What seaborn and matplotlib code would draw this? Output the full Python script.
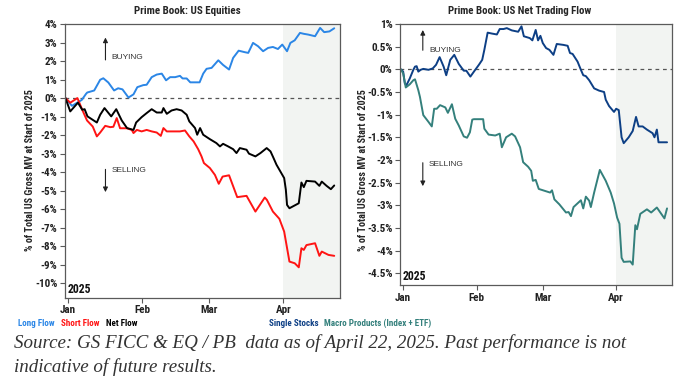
import pandas as pd
import matplotlib
matplotlib.use("Agg")
import matplotlib.pyplot as plt
from matplotlib.ticker import FuncFormatter
import seaborn as sns


# ==========================================================
# DATA (days since 2025-01-01, % of total US gross MV)
# ==========================================================

long_days = [-1, 1.7, 5.8, 7.6, 8.1, 11, 13.5, 14.8, 16.9, 19.3, 21, 22.8, 25.3, 27.4, 29, 31.5, 32.9, 35, 37.1, 39.2,
             41, 42.7, 44.8, 46.8, 47.9, 49.6, 51.1, 53.9, 55, 56.5, 57.9, 60, 62.8, 64.8, 67.3, 69, 71.3, 73.8, 75.3,
             77.3, 79.4, 81.5, 83.6, 85.6, 87.7, 89.5, 91.5, 92.9, 94.7, 96.9, 98.5, 100.3, 103.2, 105.3, 107, 109.2, 111.2]
long_vals = [0, -0.42, -0.1, 0.23, 0.3, 0.41, 0.99, 1.07, 0.84, 0.41, 0.53, 0.47, 0.03, 0.2, 0.59, 0.7, 0.72, 1.13, 1.27,
             1.32, 0.96, 1.13, 1.13, 1.2, 1.06, 1.06, 0.85, 0.85, 0.85, 1.32, 1.58, 1.63, 2.04, 1.79, 1.54, 2.17, 2.56, 2.48,
             2.44, 2.98, 2.8, 2.53, 2.71, 2.76, 2.65, 2.89, 2.53, 2.98, 3.12, 3.52, 3.47, 3.43, 3.34, 3.79, 3.56, 3.6, 3.77]

short_days = [-1, 1, 4, 6, 8, 10.4, 12.1, 13.5, 15.6, 17.7, 19, 20.4, 21.8, 24.6, 26.7, 27.4, 28.8, 30.8, 32.9, 35, 37.1,
              38.8, 39.9, 41.3, 44, 46.8, 48.9, 50.7, 52.5, 54.4, 55.8, 56.8, 59.3, 61.4, 63, 64.6, 67.3, 70.7, 74.6, 78.3,
              82.2, 83.1, 85.6, 88.3, 90.3, 92.5, 94.7, 96.4, 97.5, 98.5, 99.6, 103.2, 105, 106, 108.8, 111.2]
short_vals = [0, -0.25, 0, -0.63, -1.21, -1.54, -2.07, -1.86, -1.5, -1.57, -1.55, -1.08, -1.63, -1.63, -1.72, -1.89, -1.72,
              -1.8, -1.72, -1.8, -1.86, -2.04, -1.62, -1.8, -1.8, -1.8, -1.75, -2.07, -2.34, -2.76, -3.15, -3.51, -3.78,
              -4.15, -4.63, -4.24, -4.17, -5.35, -5.28, -6.13, -5.37, -5.5, -6.13, -6.52, -7.21, -8.83, -8.92, -9.14, -8.11,
              -8.2, -7.94, -7.84, -8.52, -8.29, -8.47, -8.52]

net_days = [-1, 1, 4.2, 6, 7, 8.2, 12.1, 13.5, 15.3, 18.1, 20.2, 22.5, 24.7, 27.4, 28.5, 30.8, 32.9, 35, 37.1, 39.2, 39.9,
            41.3, 43.3, 45.4, 47.5, 49.6, 50.7, 53.1, 54, 55.2, 56.5, 59.3, 62, 63.5, 64.8, 66.9, 69, 70.4, 71.8, 74.6,
            75.6, 78.3, 80.4, 83, 84.6, 85.7, 87.1, 90.3, 91, 91.5, 92.5, 96.4, 97.5, 98.5, 99.6, 103.2, 105, 106, 108,
            109.8, 111.2]
net_vals = [0, -0.72, -0.25, -0.63, -0.6, -0.99, -1.32, -0.9, -0.54, -0.99, -0.6, -1.21, -1.62, -1.72, -1.32, -1.03, -0.81,
            -0.6, -0.78, -0.78, -0.54, -0.85, -0.67, -0.6, -0.67, -0.9, -1.26, -1.62, -1.98, -1.62, -1.98, -2.22, -2.43,
            -2.61, -2.47, -2.61, -2.76, -2.97, -2.7, -2.79, -3.0, -3.15, -2.97, -2.7, -2.88, -3.19, -3.6, -4.32, -4.95,
            -5.77, -5.95, -5.68, -4.56, -4.81, -4.47, -4.51, -4.74, -4.51, -4.74, -4.92, -4.72]

single_days = [-1, 0, 0.7, 1.4, 2.8, 4.3, 5, 5.7, 6.4, 7.4, 8.5, 10.7, 12.5, 13.9, 15.4, 17.1, 18.2, 19.9, 21.6, 23.5,
               25.6, 26.7, 28.4, 29.9, 32, 33.4, 34.3, 35.7, 37.5, 39.6, 40.8, 42.4, 43.8, 45.9, 48.6, 50, 51, 53.5, 54.6,
               56, 57, 58, 59, 60.4, 61.8, 63.5, 64.9, 67.7, 69.5, 70.5, 71.6, 73.7, 75.1, 76.1, 77.2, 78.6, 80.7, 82.8,
               84.9, 85.6, 87, 89.1, 90, 91.1, 92.3, 93.2, 95.3, 97, 98.4, 99.5, 101.2, 103, 105.4, 106.2, 107.2, 107.9,
               110, 111.5]
single_vals = [0, -0.05, -0.31, -0.35, -0.2, -0.01, 0.06, 0.07, -0.05, -0.01, 0.01, -0.01, 0.02, 0.1, 0.27, 0.06, -0.13,
               0.21, 0.32, 0.12, -0.03, -0.03, -0.16, -0.05, 0.1, 0.21, 0.43, 0.81, 0.79, 0.77, 0.89, 0.89, 0.91, 0.86,
               0.83, 0.95, 0.73, 0.69, 0.64, 0.87, 0.64, 0.74, 0.58, 0.47, 0.43, 0.32, 0.56, 0.54, 0.52, 0.36, 0.34, 0.17,
               -0.01, -0.13, -0.15, -0.24, -0.42, -0.47, -0.5, -0.67, -0.81, -0.94, -0.87, -0.9, -1.5, -1.63, -1.5, -1.36,
               -1.05, -1.26, -1.26, -1.33, -1.41, -1.5, -1.33, -1.61, -1.61, -1.61]

macro_days = [-1, 0, 1.1, 2.8, 4.3, 5, 6.4, 7.1, 8.5, 10.7, 12.1, 13.1, 14.2, 15.6, 17.8, 18.9, 20.6, 22, 23.5, 25.6, 27,
              28.2, 29.2, 29.9, 32.7, 33.8, 34.3, 36.1, 38.9, 40.8, 41.7, 43.5, 45.9, 47.3, 49.4, 50.7, 52.8, 54.1, 54.8,
              56, 57.3, 59.7, 62.1, 62.9, 63.9, 66, 68.8, 69.9, 70.9, 72, 75.1, 76.1, 77.2, 78.6, 79.3, 80.7, 83.1, 85.6,
              87.7, 89.1, 90.4, 91.4, 92.3, 93.2, 96, 97, 98.1, 98.8, 100.2, 103, 104.8, 107.2, 110.4, 111.5]
macro_vals = [0, -0.09, -0.4, -0.33, -0.24, -0.22, -0.46, -0.61, -1.01, -1.16, -1.26, -0.87, -0.87, -0.79, -0.84, -0.96,
              -0.77, -1.09, -1.24, -1.48, -1.51, -1.39, -1.11, -1.1, -1.1, -1.1, -1.31, -1.44, -1.46, -1.42, -1.72, -1.5,
              -1.42, -1.48, -1.72, -2.05, -2.15, -2.24, -2.46, -2.44, -2.64, -2.68, -2.72, -2.67, -2.87, -2.98, -3.16,
              -3.15, -3.24, -3.04, -2.89, -3.07, -2.81, -2.9, -3.04, -2.72, -2.22, -2.46, -2.72, -2.96, -3.27, -3.41,
              -4.16, -4.25, -4.24, -4.31, -3.44, -3.53, -3.19, -3.09, -3.16, -3.05, -3.29, -3.07]

month_labels = ["Jan", "Feb", "Mar", "Apr"]
left_yticks = [4, 3, 2, 1, 0, -1, -2, -3, -4, -5, -6, -7, -8, -9, -10]
right_yticks = [1, 0.5, 0, -0.5, -1, -1.5, -2, -2.5, -3, -3.5, -4, -4.5]


# ==========================================================
# CONFIG
# ==========================================================

sns.set_theme(style="white")
FONT = ["Roboto Condensed", "Liberation Sans Narrow", "Roboto", "DejaVu Sans"]
plt.rcParams["font.family"] = FONT

BASE = pd.Timestamp("2025-01-01")
SPINE = "#5a5a5a"
SHADE = "#f2f4f2"


def to_dates(days):
    return BASE + pd.to_timedelta(days, unit="D")


def make_df(days, vals):
    return pd.DataFrame({"date": to_dates(days), "value": vals})


def style_axis(ax, ylim, yticks):
    ax.set_xlim(to_dates([-1.2])[0], to_dates([113.6])[0])
    ax.set_ylim(*ylim)
    ax.axvspan(pd.Timestamp("2025-04-01"), to_dates([113.6])[0], color=SHADE, zorder=0, lw=0)
    ax.axhline(0, color="#555555", lw=0.9, ls=(0, (3, 3)), zorder=1)
    ax.set_xticks([pd.Timestamp(f"2025-{m:02d}-01") for m in range(1, 5)])
    ax.set_xticklabels(month_labels)
    ax.set_yticks(yticks)
    ax.yaxis.set_major_formatter(FuncFormatter(lambda v, p: f"{v:g}%"))
    ax.tick_params(axis="both", which="major", length=3.5, width=0.8, color=SPINE, labelsize=8,
                   bottom=True, left=True, pad=2)
    for lab in ax.get_xticklabels() + ax.get_yticklabels():
        lab.set_fontweight("bold")
        lab.set_color("#222222")
    for s in ax.spines.values():
        s.set_color(SPINE)
        s.set_linewidth(0.9)
    ax.set_xlabel("")
    ax.set_ylabel("")
    ax.text(0.008, 0.006, "2025", transform=ax.transAxes, fontsize=8.5, fontweight="bold",
            color="#111111", ha="left", va="bottom")


def flow_arrows(ax, x_day, up, down, buy_y, sell_y):
    x = to_dates([x_day])[0]
    xt = to_dates([x_day + 2.6])[0]
    ap = dict(arrowstyle="-|>", color="#222222", lw=0.8, mutation_scale=7)
    ax.annotate("", xy=(x, up[1]), xytext=(x, up[0]), arrowprops=ap)
    ax.annotate("", xy=(x, down[1]), xytext=(x, down[0]), arrowprops=ap)
    ax.text(xt, buy_y, "BUYING", fontsize=6, color="#333333", va="center", family=["Liberation Sans", "DejaVu Sans"])
    ax.text(xt, sell_y, "SELLING", fontsize=6, color="#333333", va="center", family=["Liberation Sans", "DejaVu Sans"])


fig = plt.figure(figsize=(6.92, 3.86), dpi=100)
ax1 = fig.add_axes([0.0939, 0.2288, 0.3974, 0.709])
ax2 = fig.add_axes([0.5785, 0.2617, 0.3926, 0.676])


# ==========================================================
# LEFT: PRIME BOOK US EQUITIES
# ==========================================================

sns.lineplot(data=make_df(long_days, long_vals), x="date", y="value", color="#2b86e6", lw=1.4, ax=ax1)
sns.lineplot(data=make_df(short_days, short_vals), x="date", y="value", color="#ff1414", lw=1.4, ax=ax1)
sns.lineplot(data=make_df(net_days, net_vals), x="date", y="value", color="#000000", lw=1.4, ax=ax1)
style_axis(ax1, (-10.78, 4.0), left_yticks)
flow_arrows(ax1, 15.7, (1.91, 3.42), (-3.7, -5.23), 2.18, -3.91)


# ==========================================================
# RIGHT: PRIME BOOK US NET TRADING FLOW
# ==========================================================

sns.lineplot(data=make_df(single_days, single_vals), x="date", y="value", color="#0d3f85", lw=1.4, ax=ax2)
sns.lineplot(data=make_df(macro_days, macro_vals), x="date", y="value", color="#34807c", lw=1.4, ax=ax2)
style_axis(ax2, (-4.76, 1.0), right_yticks)
flow_arrows(ax2, 8.3, (0.36, 0.93), (-2.0, -2.64), 0.41, -2.09)


# ==========================================================
# TEXT
# ==========================================================

fig.text(187 / 692, 0.971, "Prime Book: US Equities", ha="center", va="center", fontsize=7.9, fontweight="bold")
fig.text(520 / 692, 0.971, "Prime Book: US Net Trading Flow", ha="center", va="center", fontsize=7.8,
         fontweight="bold")
ylab = "% of Total US Gross MV at Start of 2025"
fig.text(30 / 692, 1 - 170 / 386, ylab, rotation=90, ha="center", va="center", fontsize=7.3, fontweight="bold")
fig.text(363 / 692, 1 - 170 / 386, ylab, rotation=90, ha="center", va="center", fontsize=7.3, fontweight="bold")

leg_y = 1 - 323 / 386
for x, label, c in [(18, "Long Flow", "#2b86e6"), (61, "Short Flow", "#ff1414"), (106, "Net Flow", "#000000"),
                    (269, "Single Stocks", "#0d3f85"), (324, "Macro Products (Index + ETF)", "#34807c")]:
    fig.text(x / 692, leg_y, label, color=c, fontsize=6.5, fontweight="bold", va="center", ha="left")

src_font = ["Liberation Serif", "DejaVu Serif"]
fig.text(14 / 692, 1 - 348 / 386, "Source: GS FICC & EQ / PB  data as of April 22, 2025. Past performance is not",
         fontsize=13.7, style="italic", color="#333333", family=src_font, va="baseline")
fig.text(14 / 692, 1 - 371.5 / 386, "indicative of future results.",
         fontsize=13.7, style="italic", color="#333333", family=src_font, va="baseline")

fig.savefig("out.png", dpi=100)
